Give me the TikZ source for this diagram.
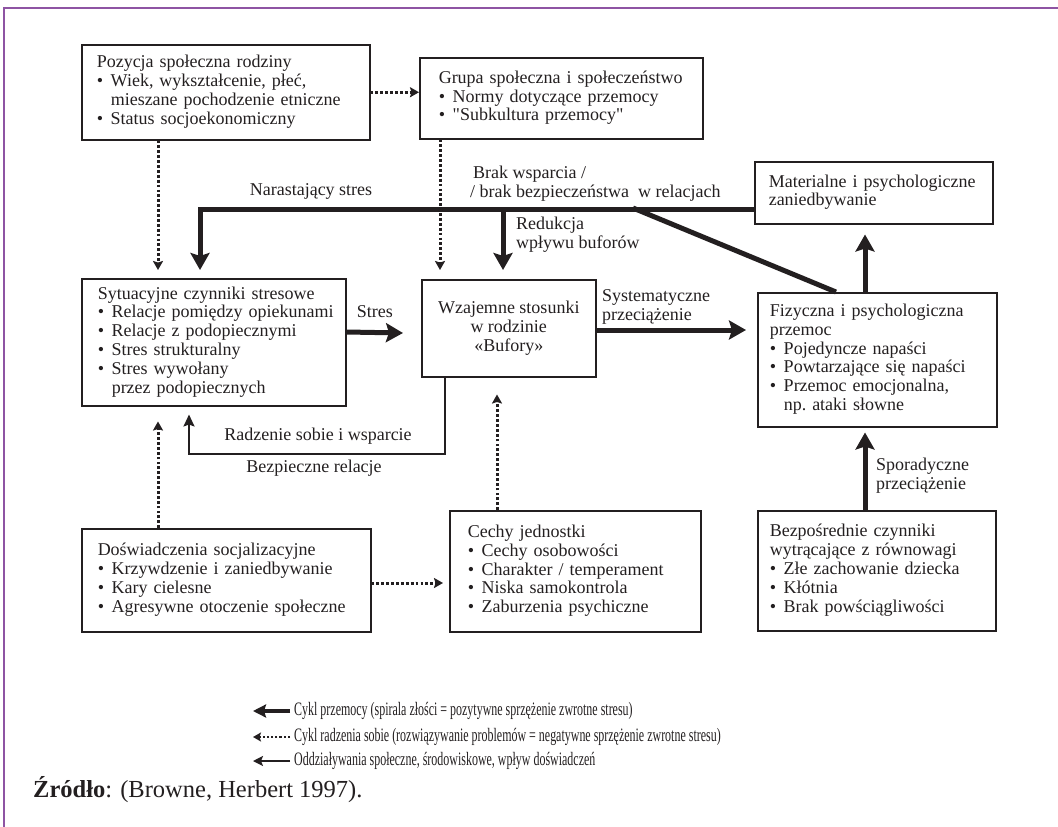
\documentclass[tikz,border=0pt]{standalone}
\usepackage{fontspec}
\setmainfont{Liberation Serif}[Ligatures=TeXOff]
\newfontfamily\legendfamily[FakeStretch=0.63, Ligatures=TeXOff]{Liberation Serif}
\usetikzlibrary{arrows.meta, calc}

\definecolor{ink}{RGB}{35,31,32}
\definecolor{framecol}{RGB}{142,84,163}

\newcommand{\boxfont}{\fontsize{18}{18.8}\selectfont\frenchspacing}
\newcommand{\legfont}{\legendfamily\fontsize{19}{20}\selectfont}
\newcommand{\srcfont}{\fontsize{24.5}{27}\selectfont}
\newcommand{\bul}{\makebox[14pt][l]{\textbullet}}
\newcommand{\bulc}{\hspace*{14pt}}
\newcommand{\boxlines}[1]{\begin{tabular}{@{}l@{}}#1\end{tabular}}

\begin{document}
\begin{tikzpicture}[x=1pt, y=-1pt,
		box/.style={draw=ink, line width=1.5pt, anchor=north west, align=left, inner ysep=0pt, font=\boxfont, text=ink},
		lbl/.style={font=\boxfont, text=ink, inner sep=0pt, align=left},
		heavy/.style={draw=ink, line width=5pt, -{Stealth[length=17pt, width=19pt, inset=3pt]}},
		lite/.style={draw=ink, line width=2pt, -{Stealth[length=12pt, width=11pt, inset=2pt]}},
		dots/.style={draw=ink, line width=3pt, line cap=butt, dash pattern=on 2.8pt off 2.1pt, -{Stealth[length=9pt, width=10pt, inset=1.5pt]}},
		legheavy/.style={draw=ink, line width=4.5pt, -{Stealth[length=13pt, width=13pt, inset=2pt]}},
		leglite/.style={draw=ink, line width=1.8pt, -{Stealth[length=10pt, width=10pt, inset=2pt]}},
		legdots/.style={draw=ink, line width=2.2pt, line cap=butt, dash pattern=on 2.2pt off 2pt, -{Stealth[length=8pt, width=9pt, inset=1.5pt]}}]

	\useasboundingbox (0,0) rectangle (1058,827);
	\draw[framecol, line width=2.5pt] (4,827) -- (4,8) -- (1058,8);

	\node[box, text width=258pt, inner xsep=15pt, minimum height=95pt] (pozycja) at (81,44)
		{\boxlines{Pozycja społeczna rodziny\\ \bul Wiek, wykształcenie, płeć,\\ \bulc mieszane pochodzenie etniczne\\ \bul Status socjoekonomiczny}};
	\node[box, text width=245pt, inner xsep=19pt, minimum height=81pt] (grupa) at (419,57)
		{\boxlines{Grupa społeczna i społeczeństwo\\ \bul Normy dotyczące przemocy\\ \bul "Subkultura przemocy"}};
	\node[box, text width=232pt, inner xsep=16pt, minimum height=127pt] (sytuacyjne) at (81,278)
		{\boxlines{Sytuacyjne czynniki stresowe\\ \bul Relacje pomiędzy opiekunami\\ \bul Relacje z podopiecznymi\\ \bul Stres strukturalny\\ \bul Stres wywołany\\ \bulc przez podopiecznych}};
	\node[box, align=center, minimum width=174pt, minimum height=97pt] (bufory) at (421,279)
		{Wzajemne stosunki\\ w rodzinie\\ «Bufory»};
	\node[box, text width=210pt, inner xsep=14pt, minimum height=62pt] (zaniedbanie) at (754,161)
		{\boxlines{Materialne i psychologiczne\\ zaniedbywanie}};
	\node[box, text width=215pt, inner xsep=12pt, minimum height=134pt] (przemoc) at (757,292)
		{\boxlines{Fizyczna i psychologiczna\\ przemoc\\ \bul Pojedyncze napaści\\ \bul Powtarzające się napaści\\ \bul Przemoc emocjonalna,\\ \bulc np. ataki słowne}};
	\node[box, text width=257pt, inner xsep=16pt, minimum height=103pt] (socjal) at (81,528)
		{\boxlines{Doświadczenia socjalizacyjne\\ \bul Krzywdzenie i zaniedbywanie\\ \bul Kary cielesne\\ \bul Agresywne otoczenie społeczne}};
	\node[box, text width=215pt, inner xsep=18pt, minimum height=121pt] (cechy) at (449,510)
		{\boxlines{Cechy jednostki\\ \bul Cechy osobowości\\ \bul Charakter / temperament\\ \bul Niska samokontrola\\ \bul Zaburzenia psychiczne}};
	\node[box, text width=214pt, inner xsep=12pt, minimum height=120pt] (wyzwalacze) at (757,510)
		{\boxlines{Bezpośrednie czynniki\\ wytrącające z równowagi\\ \bul Złe zachowanie dziecka\\ \bul Kłótnia\\ \bul Brak powściągliwości}};

	\begin{scope}
		\draw[dots] (pozycja.east) -- (pozycja.east -| grupa.west);
		\draw[dots] ($(pozycja.south west)+(77,0)$) -- ($(sytuacyjne.north west)+(77,-8)$);
		\draw[dots] ($(grupa.south west)+(21,0)$) -- ($(bufory.north west)+(19,-9)$);
		\draw[dots] ($(socjal.north west)+(77,0)$) -- ($(sytuacyjne.south west)+(77,15)$);
		\draw[dots] ($(cechy.north west)+(48,0)$) -- ($(bufory.south west)+(76,17)$);
		\draw[dots] ($(socjal.north east)+(0,55)$) -- ($(cechy.north west)+(-6,73)$);
	\end{scope}

	\coordinate (fork) at ($(zaniedbanie.south west)+(0,-15)$);
	\begin{scope}
		\draw[heavy] (fork) -| ($(sytuacyjne.north west)+(119,-8)$);
		\draw[heavy] ($(bufory.north west)+(82,-71)$) -- ($(bufory.north west)+(82,-9)$);
		\draw[heavy, -] ($(bufory.north west)+(212,-71)$) -- ($(przemoc.north west)+(79,0)$);
		\draw[heavy] ($(sytuacyjne.north east)+(0,54)$) -- ($(bufory.north west)+(-18,54)$)
			node[lbl, midway, above=12pt] (stres) {Stres};
		\draw[heavy] ($(bufory.north east)+(0,51)$) -- ($(przemoc.north west)+(-11,38)$);
		\draw[heavy] ($(przemoc.north west)+(108,0)$) -- ($(zaniedbanie.south west)+(111,10)$);
		\draw[heavy] ($(wyzwalacze.north west)+(108,0)$) -- ($(przemoc.south west)+(108,5)$);
	\end{scope}

	\draw[lite] ($(bufory.south west)+(24,0)$) -- ++(0,76) -| ($(sytuacyjne.south west)+(108,8)$);

	\node[lbl] (narastajacy) at (311,191) {Narastający stres};
	\node[lbl, anchor=west] (brak) at (470,184) {\boxlines{\,Brak wsparcia /\\ / brak bezpieczeństwa~ w relacjach}};
	\node[lbl, anchor=west] (redukcja) at (516,235) {\boxlines{Redukcja\\ wpływu buforów}};
	\node[lbl] (systematyczne) at (656,307) {\boxlines{Systematyczne\\ przeciążenie}};
	\node[lbl, anchor=west] (sporadyczne) at (876,476) {\boxlines{Sporadyczne\\ przeciążenie}};
	\node[lbl] (radzenie) at (318,436) {Radzenie sobie i wsparcie};
	\node[lbl] (bezpieczne) at (314,468) {Bezpieczne relacje};

	\foreach \st/\y/\txt [count=\k] in {
			legheavy/711/{Cykl przemocy (spirala złości = pozytywne sprzężenie zwrotne stresu)},
			legdots/737/{Cykl radzenia sobie (rozwiązywanie problemów = negatywne sprzężenie zwrotne stresu)},
			leglite/761/{Oddziaływania społeczne, środowiskowe, wpływ doświadczeń}}
	{
		\node[anchor=west, inner sep=0pt, font=\legfont, text=ink] (leg\k) at (294,\y) {\txt};
		\draw[\st] ($(leg\k.west)+(-4,0)$) -- ++(-37,0);
	}

	\node[anchor=west, inner sep=0pt, font=\srcfont, text=ink] (zrodlo) at (33,790)
		{\textbf{Źródło}: (Browne, Herbert 1997).};
\end{tikzpicture}
\end{document}
